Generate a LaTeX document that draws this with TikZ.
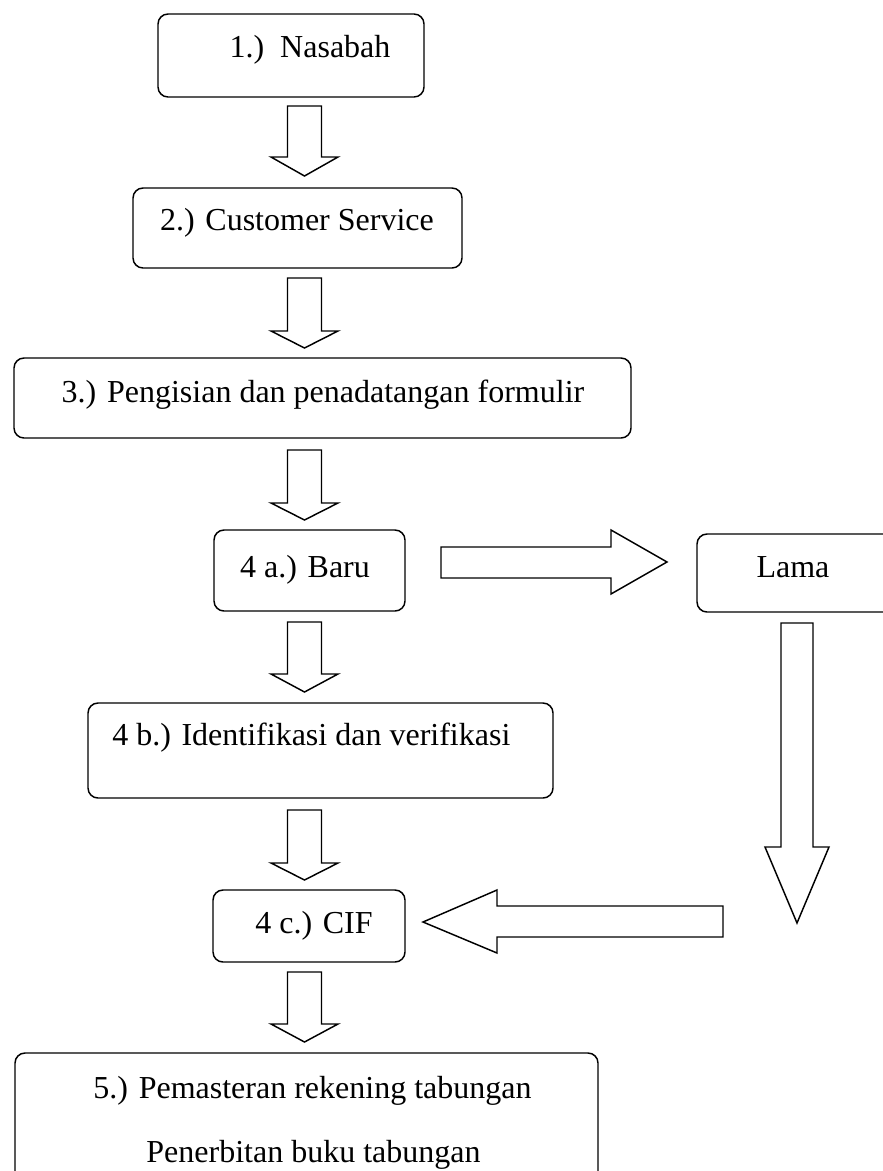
\documentclass[tikz,border=0pt]{standalone}
\usepackage{fontspec}
\setmainfont{Liberation Serif}
\newcommand\vblockarrow[4]{% centre x, top y, head y, tip y
  \draw[blk] ({#1-17},#2) -- ({#1+17},#2) -- ({#1+17},#3) -- ({#1+33.5},#3)
    -- (#1,#4) -- ({#1-33.5},#3) -- ({#1-17},#3) -- cycle;}
\begin{document}
\begin{tikzpicture}[x=0.75pt,y=-0.75pt,
  box/.style={draw, line width=1.1pt, rounded corners=7.5pt, inner sep=0pt},
  txt/.style={inner sep=0pt, anchor=base, font=\fontsize{24}{28}\selectfont},
  blk/.style={draw, line width=1.1pt, line join=miter, fill=white}]
\useasboundingbox (0,0) rectangle (882,1171);

% boxes
\node[box, minimum width=199.5pt, minimum height=62.25pt] (b1) at (291,55.5) {};
\node[box, minimum width=246.75pt, minimum height=60pt] (b2) at (297.5,228) {};
\node[box, minimum width=462.75pt, minimum height=60pt] (b3) at (322.5,398) {};
\node[box, minimum width=143.25pt, minimum height=60.75pt] (b4a) at (309.5,570.5) {};
\node[box, minimum width=148.5pt, minimum height=58.5pt] (lama) at (796,573) {};
\node[box, minimum width=348.75pt, minimum height=71.25pt] (b4b) at (320.5,750.5) {};
\node[box, minimum width=144pt, minimum height=54pt] (b4c) at (309,926) {};
\node[box, minimum width=437.25pt, minimum height=102.75pt] (b5) at (306.5,1121.5) {};

% texts
\node[txt] (t1) at (310,57) {1.)~~Nasabah};
\node[txt] (t2) at (297,230) {2.) Customer Service};
\node[txt] (t3) at (323,402) {3.) Pengisian dan penadatangan formulir};
\node[txt] (t4a) at (305,577) {4 a.) Baru};
\node[txt] (tlama) at (793,577) {Lama};
\node[txt, anchor=base west] (t4b) at (112,745) {4 b.) Identifikasi dan verifikasi};
\node[txt] (t4c) at (314,933) {4 c.) CIF};
\node[txt] (t5a) at (312.5,1098) {5.) Pemasteran rekening tabungan};
\node[txt] (t5b) at (313.5,1162) {Penerbitan buku tabungan};

% vertical block arrows in the main column
\vblockarrow{304.5}{106}{157}{176}
\vblockarrow{304.5}{278}{331}{348}
\vblockarrow{304.5}{450}{503}{520}
\vblockarrow{304.5}{622}{674}{692}
\vblockarrow{304.5}{810}{863}{880}
\vblockarrow{304.5}{972}{1024}{1042}

% Baru -> Lama
\draw[blk] (441,547) -- (611,547) -- (611,530) -- (667,562) -- (611,594)
  -- (611,578) -- (441,578) -- cycle;
% Lama down
\draw[blk] (781,623) -- (813,623) -- (813,847) -- (829,847) -- (797,923)
  -- (765,847) -- (781,847) -- cycle;
% towards CIF
\draw[blk] (723,906) -- (723,937) -- (497,937) -- (497,953) -- (423,922)
  -- (497,890) -- (497,906) -- cycle;
\end{tikzpicture}
\end{document}
